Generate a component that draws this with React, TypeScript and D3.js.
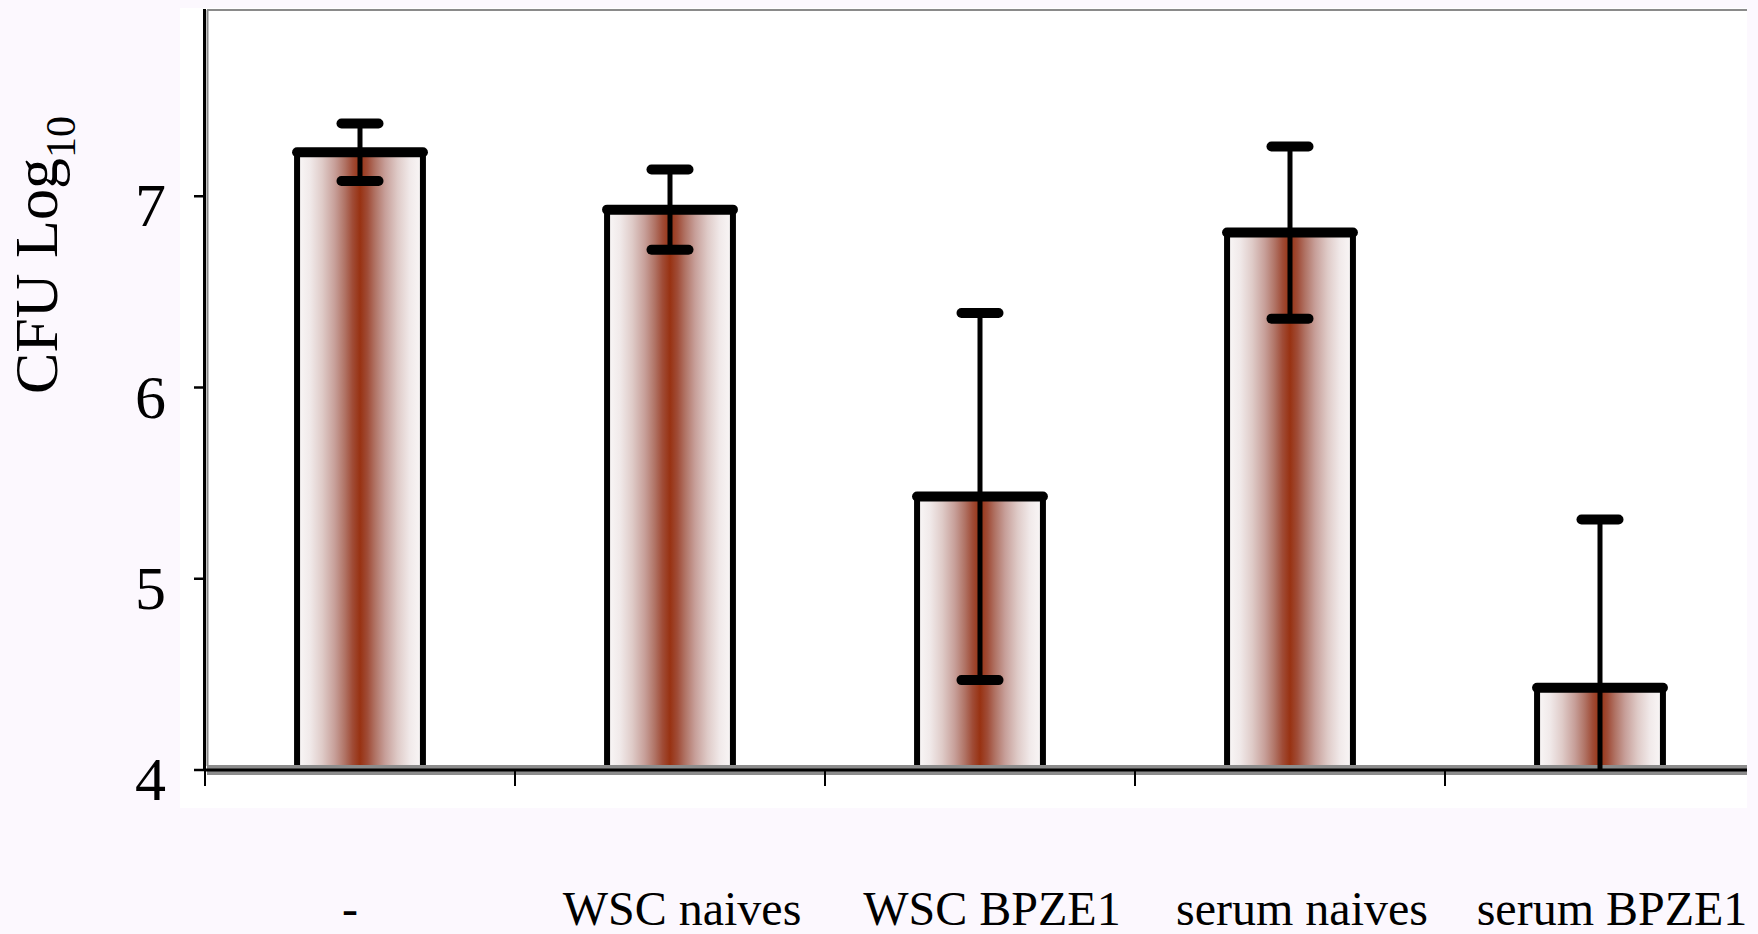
import React from "react";
import * as d3 from "d3";

const categories = ["-", "WSC naives", "WSC BPZE1", "serum naives", "serum BPZE1"];
const means = [7.23, 6.93, 5.43, 6.81, 4.43];
const errors = [0.15, 0.21, 0.96, 0.45, 0.88];
const yTicks = [4, 5, 6, 7];

const W = 1758;
const H = 934;
const plotLeft = 205;
const plotRight = 1755;
const plotTop = 10;
const plotBottom = 770;
const whiteRight = 1747;

const FONT = "'Liberation Serif', 'Times New Roman', Times, serif";

const gradStops: [number, string][] = [
  [0, "#faf8f8"],
  [0.1, "#f1eaea"],
  [0.2, "#dfcbc8"],
  [0.3, "#c79f99"],
  [0.38, "#b07365"],
  [0.44, "#a04c37"],
  [0.5, "#983212"],
  [0.56, "#a04c37"],
  [0.62, "#b07365"],
  [0.7, "#c79f99"],
  [0.8, "#dfcbc8"],
  [0.9, "#f1eaea"],
  [1, "#faf8f8"],
];

export default function App() {
  const x = d3.scaleBand<string>().domain(categories).range([plotLeft, plotRight]).paddingInner(0).paddingOuter(0);
  const y = d3.scaleLinear().domain([4, 8]).range([plotBottom, 5]);
  const bw = x.bandwidth() * 0.406;
  const capW = 47;

  return (
    <svg
      width={W}
      height={H}
      viewBox={`0 0 ${W} ${H}`}
      style={{ position: "absolute", left: 0, top: 0, display: "block" }}
    >
      <defs>
        <linearGradient id="barGrad" x1="0" x2="1" y1="0" y2="0">
          {gradStops.map(([o, c], i) => (
            <stop key={i} offset={o} stopColor={c} />
          ))}
        </linearGradient>
        <clipPath id="plotClip">
          <rect x={plotLeft} y={0} width={whiteRight - plotLeft} height={plotBottom} />
        </clipPath>
      </defs>
      <rect x={0} y={0} width={W} height={H} fill="#fcf8fe" />
      <rect x={180} y={8} width={whiteRight - 180} height={808 - 8} fill="#ffffff" />

      {/* top frame */}
      <line x1={plotLeft + 2} x2={whiteRight} y1={plotTop} y2={plotTop} stroke="#8a8a8a" strokeWidth={2} />

      {/* bars */}
      <g clipPath="url(#plotClip)">
        {categories.map((c, i) => {
          const cx = (x(c) as number) + x.bandwidth() / 2;
          const top = y(means[i]);
          return (
            <g key={c}>
              <rect x={cx - bw / 2} y={top} width={bw} height={plotBottom - top} fill="url(#barGrad)" />
              <rect
                x={cx - bw / 2}
                y={top}
                width={bw}
                height={plotBottom - top}
                fill="none"
                stroke="#000"
                strokeWidth={6}
                strokeLinejoin="round"
              />
              <line x1={cx - bw / 2} x2={cx + bw / 2} y1={top} y2={top} stroke="#000" strokeWidth={10} strokeLinecap="round" />
            </g>
          );
        })}
      </g>

      {/* x axis */}
      <rect x={plotLeft + 2} y={765} width={whiteRight - plotLeft - 2} height={10} fill="#8c8c8c" />
      <line x1={plotLeft} x2={whiteRight} y1={plotBottom} y2={plotBottom} stroke="#000" strokeWidth={3} />
      {categories.map((c) => (
        <line key={c} x1={x(c) as number} x2={x(c) as number} y1={plotBottom} y2={786} stroke="#000" strokeWidth={2} />
      ))}

      {/* error bars */}
      <g clipPath="url(#plotClip)">
        {categories.map((c, i) => {
          const cx = (x(c) as number) + x.bandwidth() / 2;
          const hi = y(means[i] + errors[i]);
          const lo = y(means[i] - errors[i]);
          return (
            <g key={c}>
              <line x1={cx} x2={cx} y1={hi} y2={lo} stroke="#000" strokeWidth={5} />
              <line x1={cx - capW / 2 + 5} x2={cx + capW / 2 - 5} y1={hi} y2={hi} stroke="#000" strokeWidth={10} strokeLinecap="round" />
              <line x1={cx - capW / 2 + 5} x2={cx + capW / 2 - 5} y1={lo} y2={lo} stroke="#000" strokeWidth={10} strokeLinecap="round" />
            </g>
          );
        })}
      </g>

      {/* y axis */}
      <line x1={204.5} x2={204.5} y1={plotTop - 1} y2={plotBottom + 1} stroke="#000" strokeWidth={3} />
      <line x1={207.5} x2={207.5} y1={plotTop} y2={plotBottom - 4} stroke="#8a8a8a" strokeWidth={2} />
      {yTicks.map((t) => (
        <g key={t}>
          <line x1={194} x2={205} y1={y(t)} y2={y(t)} stroke="#000" strokeWidth={2.5} />
          <text x={166} y={y(t) + 30} textAnchor="end" fontFamily={FONT} fontSize={62} fill="#000">
            {t}
          </text>
        </g>
      ))}

      {/* y title */}
      <text
        transform={`translate(57, 255) rotate(-90)`}
        textAnchor="middle"
        fontFamily={FONT}
        fontSize={62}
        fill="#000"
      >
        CFU Log
        <tspan fontSize={42} dy={18}>10</tspan>
      </text>

      {/* x labels */}
      {categories.map((c, i) => (
        <text
          key={c}
          x={(x(c) as number) + x.bandwidth() / 2 + (i === 0 ? -10 : 12)}
          y={925}
          textAnchor="middle"
          fontFamily={FONT}
          fontSize={48}
          fill="#000"
        >
          {c}
        </text>
      ))}
    </svg>
  );
}
